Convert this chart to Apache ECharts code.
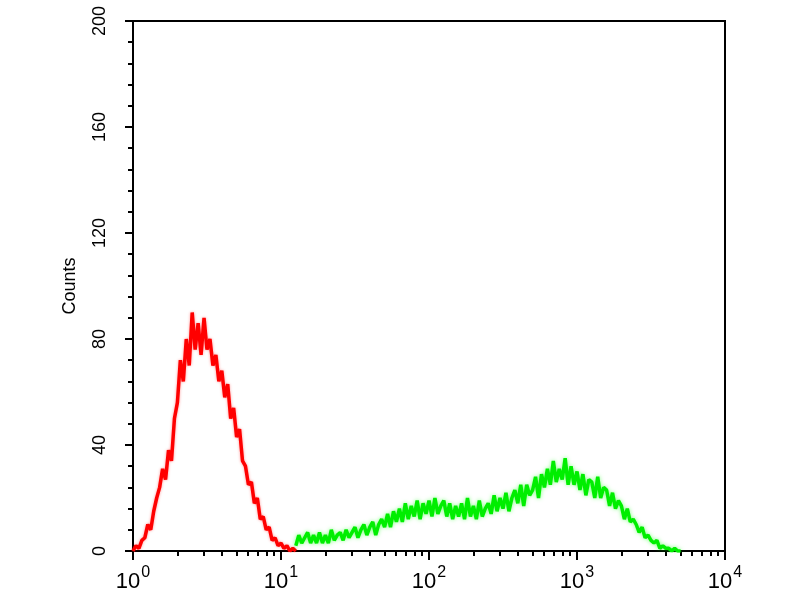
<!DOCTYPE html>
<html>
<head>
<meta charset="utf-8">
<script src="https://cdn.jsdelivr.net/npm/echarts@6/dist/echarts.min.js"></script>
<style>html,body{margin:0;padding:0;background:#fff;}#c{width:800px;height:600px;}</style>
</head>
<body>
<div id="c"></div>
<script>
// bins are 1/50 decade wide
var binStep = 0.02;
var redStart = 0.0;     // log10 of first red bin
var greenStart = 1.1;   // log10 of first green bin
var redCounts = [
  0,2,1,4,5, 10,8,15,20,24, 31,27,38,34,50, 56,72,64,80,70,
  90,76,86,74,88, 76,80,70,74,64, 68,58,63,50,54, 43,46,34,32,25,
  26,18,20,12,13, 8,9,4,5,2, 3,1,2,0,1, 0
];
var greenCounts = [
  2,6,3,5,7, 3,6,3,7,3, 6,3,8,4,6, 7,4,8,5,7, 9,5,8,10,6,
  9,11,6,10,12, 9,14,9,15,11, 16,11,18,12,17, 13,19,12,18,14,
  19,13,20,14,17, 19,13,18,12,17, 13,18,12,20,13, 17,12,19,13,16,
  18,14,21,15,20, 16,22,15,20,23, 18,25,17,25,21, 23,28,20,29,24,
  31,25,34,26,31, 27,35,25,32,25, 30,23,29,21,27, 26,20,28,20,24,
  23,17,22,16,19, 17,12,16,11,12, 10,7,9,5,6, 4,3,4,1,2, 1,1,0,1,0, 0
];
var yTicks = [0, 40, 80, 120, 160, 200];
var xDecades = [1, 10, 100, 1000, 10000];
var minorMult = [2,3,4,5,6,7,8,9];

function toPairs(start, arr) {
  return arr.map(function (v, i) { return [Math.pow(10, start + i * binStep), v]; });
}
var minorTicks = [];
xDecades.slice(0, 4).forEach(function (d) { minorMult.forEach(function (m) { minorTicks.push(d * m); }); });

var chart = echarts.init(document.getElementById('c'));
var font = 'Liberation Sans, Arial, sans-serif';
chart.setOption({
  animation: false,
  backgroundColor: '#fff',
  grid: { left: 133, right: 75, top: 21, bottom: 49, show: true, borderColor: '#000', borderWidth: 2, backgroundColor: 'transparent' },
  xAxis: [{
    type: 'log', logBase: 10, min: 1, max: 10000,
    axisLine: { show: true, lineStyle: { color: '#000', width: 2 } },
    axisTick: { show: true, length: 9, lineStyle: { color: '#000', width: 2 } },
    splitLine: { show: false },
    axisLabel: {
      margin: 14, color: '#000', fontFamily: font,
      formatter: function (v) { var e = Math.round(Math.log10(v)); return '{b|10}{s|' + e + '}'; },
      rich: {
        b: { fontSize: 22, fontFamily: font, color: '#000', verticalAlign: 'bottom' },
        s: { fontSize: 16, fontFamily: font, color: '#000', verticalAlign: 'bottom', padding: [0, 0, 12, 1] }
      }
    }
  }, {
    type: 'log', logBase: 10, min: 1, max: 10000, position: 'bottom',
    axisLine: { show: false },
    axisTick: { show: true, length: 5, customValues: minorTicks, lineStyle: { color: '#000', width: 2 } },
    axisLabel: { show: false },
    splitLine: { show: false }
  }],
  yAxis: {
    type: 'value', min: 0, max: 200, interval: 40,
    name: 'Counts', nameLocation: 'middle', nameGap: 54, nameRotate: 90,
    nameTextStyle: { fontSize: 18, fontFamily: font, color: '#000' },
    axisLine: { show: true, lineStyle: { color: '#000', width: 2 } },
    axisTick: { show: true, length: 8, lineStyle: { color: '#000', width: 2 } },
    minorTick: { show: true, splitNumber: 5, length: 5, lineStyle: { color: '#000', width: 2 } },
    splitLine: { show: false },
    axisLabel: {
      rotate: 90, margin: 24, fontSize: 18, fontFamily: font, color: '#000',
      customValues: yTicks
    }
  },
  series: [{
    type: 'line', xAxisIndex: 0, showSymbol: false, data: toPairs(redStart, redCounts),
    lineStyle: { color: '#ff0000', width: 3.5, shadowBlur: 3, shadowColor: 'rgba(255,0,0,0.4)' }, itemStyle: { color: '#ff0000' }
  }, {
    type: 'line', xAxisIndex: 0, showSymbol: false, data: toPairs(greenStart, greenCounts),
    lineStyle: { color: '#00ee00', width: 3.5, shadowBlur: 4, shadowColor: 'rgba(0,255,0,0.5)' }, itemStyle: { color: '#00ee00' }
  }]
});
</script>
</body>
</html>
